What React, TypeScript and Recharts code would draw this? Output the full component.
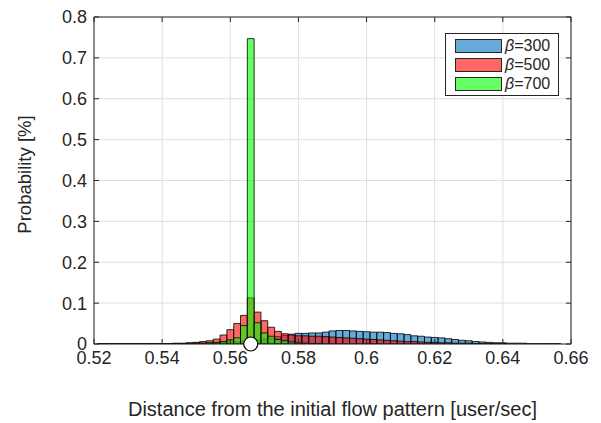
import { BarChart, Bar, XAxis, YAxis, CartesianGrid, ReferenceDot, Legend } from "recharts"

// histogram bins (centre of each 0.002-wide bin)
const BIN_CENTERS = [
  0.522, 0.524, 0.526, 0.528, 0.53, 0.532, 0.534, 0.536, 0.538, 0.54,
  0.542, 0.544, 0.546, 0.548, 0.55, 0.552, 0.554, 0.556, 0.558, 0.56,
  0.562, 0.564, 0.566, 0.568, 0.57, 0.572, 0.574, 0.576, 0.578, 0.58,
  0.582, 0.584, 0.586, 0.588, 0.59, 0.592, 0.594, 0.596, 0.598, 0.6,
  0.602, 0.604, 0.606, 0.608, 0.61, 0.612, 0.614, 0.616, 0.618, 0.62,
  0.622, 0.624, 0.626, 0.628, 0.63, 0.632, 0.634, 0.636, 0.638, 0.64,
  0.642, 0.644, 0.646, 0.648, 0.65, 0.652, 0.654, 0.656, 0.658,
]

const BETA_300 = [
  0, 0.001, 0.001, 0.001, 0.001, 0.001, 0.001, 0.001, 0.001, 0.001,
  0.001, 0.001, 0.001, 0.002, 0.002, 0.002, 0.003, 0.003, 0.004, 0.005,
  0.006, 0.007, 0.008, 0.01, 0.012, 0.014, 0.018, 0.021, 0.024, 0.026,
  0.026, 0.027, 0.027, 0.029, 0.032, 0.033, 0.033, 0.032, 0.031, 0.03,
  0.029, 0.029, 0.028, 0.026, 0.025, 0.023, 0.02, 0.019, 0.017, 0.016,
  0.015, 0.013, 0.011, 0.009, 0.008, 0.006, 0.005, 0.004, 0.003, 0.003,
  0.002, 0.002, 0.002, 0.001, 0.001, 0.001, 0.001, 0.001, 0,
]

const BETA_500 = [
  0.001, 0.001, 0.001, 0.001, 0.001, 0.001, 0.001, 0.001, 0.001, 0.001,
  0.001, 0.002, 0.002, 0.003, 0.004, 0.006, 0.008, 0.012, 0.022, 0.035,
  0.05, 0.07, 0.113, 0.078, 0.057, 0.041, 0.031, 0.025, 0.022, 0.02,
  0.02, 0.019, 0.019, 0.018, 0.017, 0.016, 0.015, 0.014, 0.013, 0.012,
  0.011, 0.01, 0.009, 0.008, 0.007, 0.006, 0.006, 0.005, 0.004, 0.004,
  0.003, 0.003, 0.002, 0.002, 0.002, 0.001, 0.001, 0.001, 0.001, 0.001,
  0, 0, 0, 0, 0, 0, 0, 0, 0,
]

const BETA_700 = [
  0.001, 0.001, 0.001, 0.001, 0.001, 0.001, 0.001, 0.001, 0.001, 0.001,
  0.001, 0.001, 0.001, 0.001, 0.002, 0.002, 0.003, 0.004, 0.006, 0.01,
  0.015, 0.045, 0.747, 0.052, 0.027, 0.019, 0.011, 0.008, 0.005, 0.003,
  0.002, 0.001, 0.001, 0, 0, 0, 0, 0, 0, 0,
  0, 0, 0, 0, 0, 0, 0, 0, 0, 0,
  0, 0, 0, 0, 0, 0, 0, 0, 0, 0,
  0, 0, 0, 0, 0, 0, 0, 0, 0,
]

const X_TICKS = [0.52, 0.54, 0.56, 0.58, 0.6, 0.62, 0.64, 0.66]
const Y_TICKS = [0, 0.1, 0.2, 0.3, 0.4, 0.5, 0.6, 0.7, 0.8]
const X_DOMAIN = [0.52, 0.66]
const Y_DOMAIN = [0, 0.8]
const BIN_WIDTH = 0.002
const INITIAL_PATTERN = 0.566

const SERIES = [
  { key: "b300", beta: "300", color: "#0072BD", swatch: "#66AAD7" },
  { key: "b500", beta: "500", color: "#FF0000", swatch: "#FF6666" },
  { key: "b700", beta: "700", color: "#00FF00", swatch: "#66FF66" },
]

const data = BIN_CENTERS.map((x, i) => ({
  x,
  b300: BETA_300[i],
  b500: BETA_500[i],
  b700: BETA_700[i],
}))

const W = 601
const H = 423
const PLOT_W = 477
// bar width in px so that the bins touch; negative gap stacks the three series on top of each other
const BAR_PX = (PLOT_W * BIN_WIDTH) / (X_DOMAIN[1] - X_DOMAIN[0]) - 0.01
const AXIS = "#262626"
const FONT = "'Liberation Sans', Arial, Helvetica, sans-serif"

function HistLegend() {
  return (
    <div
      style={{
        boxSizing: "border-box",
        width: 114,
        height: 63,
        border: `1px solid ${AXIS}`,
        background: "#fff",
        padding: "2px 0 0 9px",
        fontSize: 16,
        fontFamily: FONT,
        color: AXIS,
      }}
    >
      {SERIES.map((s) => (
        <div key={s.key} style={{ display: "flex", alignItems: "center", height: 19.3 }}>
          <span
            style={{
              display: "inline-block",
              width: 45,
              height: 12,
              background: s.swatch,
              border: `1px solid ${AXIS}`,
              marginRight: 3,
            }}
          />
          <span>
            <i>β</i>={s.beta}
          </span>
        </div>
      ))}
    </div>
  )
}

export default function App() {
  const tickStyle = { fill: AXIS, fontSize: 18, fontFamily: FONT }
  const blank = () => ""
  return (
    <div style={{ width: W, height: H, background: "#fff" }}>
      <style>{"body{margin:0}"}</style>
      <BarChart
        width={W}
        height={H}
        data={data}
        margin={{ top: 16, right: 29, bottom: 7, left: 0 }}
        barCategoryGap={0}
        barGap={-BAR_PX}
        style={{ fontFamily: FONT }}
      >
        <CartesianGrid stroke="#dfdfdf" strokeWidth={1} />
        <XAxis
          dataKey="x"
          type="number"
          domain={X_DOMAIN}
          allowDataOverflow
          ticks={X_TICKS}
          interval={0}
          tickFormatter={(v) => String(v)}
          tick={tickStyle}
          tickSize={-5}
          tickMargin={12}
          stroke={AXIS}
          height={72}
          label={{
            value: "Distance from the initial flow pattern [user/sec]",
            position: "insideBottom",
            offset: 0,
            fill: AXIS,
            fontSize: 20,
          }}
        />
        <XAxis
          xAxisId="top"
          orientation="top"
          dataKey="x"
          type="number"
          domain={X_DOMAIN}
          allowDataOverflow
          ticks={X_TICKS}
          interval={0}
          tickFormatter={blank}
          tickSize={-5}
          stroke={AXIS}
          height={1}
        />
        <YAxis
          type="number"
          domain={Y_DOMAIN}
          allowDataOverflow
          ticks={Y_TICKS}
          interval={0}
          tickFormatter={(v) => String(v)}
          tick={tickStyle}
          tickSize={-5}
          tickMargin={12}
          stroke={AXIS}
          width={94}
          label={{
            value: "Probability [%]",
            angle: -90,
            position: "insideLeft",
            offset: 24,
            dy: -6,
            fill: AXIS,
            fontSize: 18.5,
            style: { textAnchor: "middle" },
          }}
        />
        <YAxis
          yAxisId="right"
          orientation="right"
          type="number"
          domain={Y_DOMAIN}
          allowDataOverflow
          ticks={Y_TICKS}
          interval={0}
          tickFormatter={blank}
          tickSize={-5}
          stroke={AXIS}
          width={1}
        />
        {SERIES.map((s) => (
          <Bar
            key={s.key}
            dataKey={s.key}
            barSize={BAR_PX}
            fill={s.color}
            fillOpacity={0.6}
            stroke="#000"
            strokeOpacity={0.8}
            strokeWidth={1}
            isAnimationActive={false}
          />
        ))}
        <ReferenceDot
          x={INITIAL_PATTERN}
          y={0}
          r={7}
          fill="#fff"
          stroke="#000"
          strokeWidth={1.2}
          ifOverflow="visible"
        />
        <Legend
          layout="vertical"
          align="center"
          verticalAlign="middle"
          content={() => <HistLegend />}
          wrapperStyle={{ left: 445, top: 33, width: 114, height: 63 }}
        />
      </BarChart>
    </div>
  )
}
